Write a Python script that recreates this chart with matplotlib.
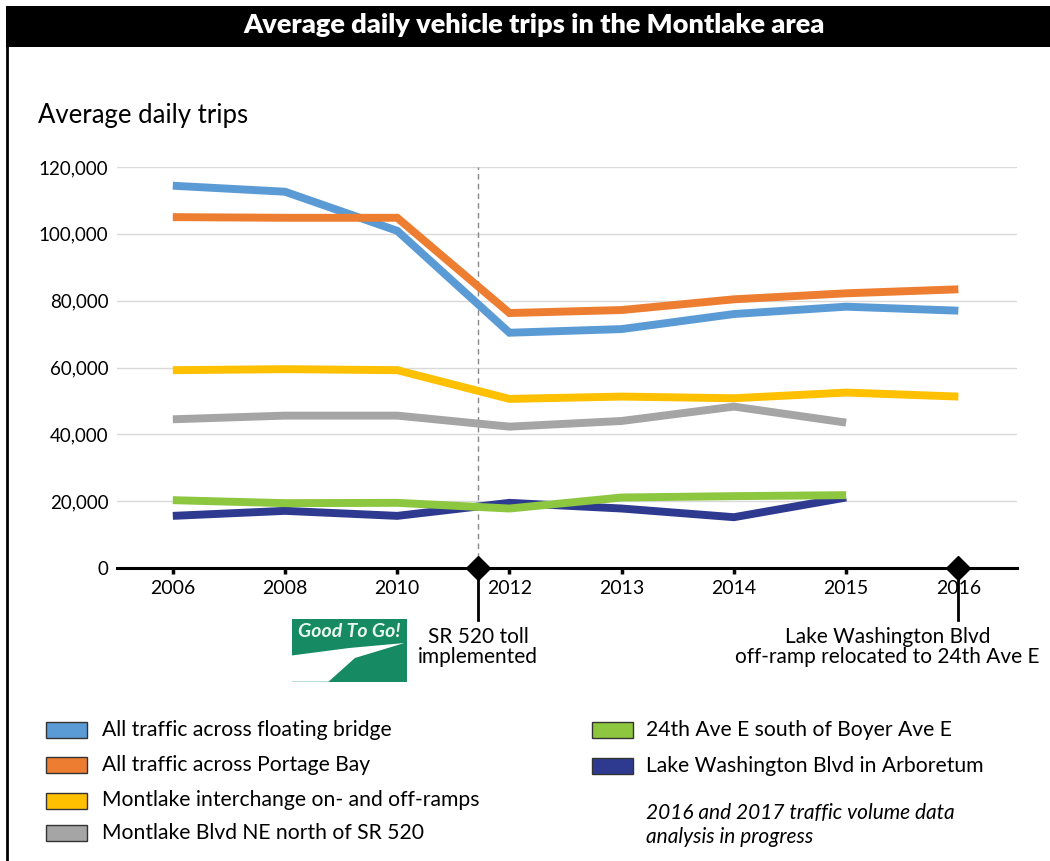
import matplotlib
matplotlib.use("Agg")
import matplotlib.pyplot as plt
from matplotlib.patches import Rectangle, Polygon
from matplotlib.lines import Line2D
from matplotlib.transforms import blended_transform_factory
import numpy as np

plt.rcParams['font.family'] = ['Lato', 'DejaVu Sans']

# data
years = ['2006', '2008', '2010', '2012', '2013', '2014', '2015', '2016']

floating_bridge = [114400, 112600, 100900, 70400, 71500, 76000, 78200, 77000]
portage_bay = [105000, 104800, 104800, 76300, 77200, 80400, 82200, 83400]
montlake_ramps = [59200, 59500, 59200, 50600, 51300, 50800, 52500, 51300]
montlake_blvd = [44500, 45600, 45600, 42300, 44000, 48300, 43500, np.nan]
ave_24th = [20300, 19400, 19500, 17800, 21100, 21500, 21800, np.nan]
lake_wash_blvd = [15600, 17100, 15600, 19500, 17800, 15200, 21100, np.nan]

series = [floating_bridge, portage_bay, montlake_ramps, montlake_blvd, ave_24th, lake_wash_blvd]
labels = ['All traffic across floating bridge',
          'All traffic across Portage Bay',
          'Montlake interchange on- and off-ramps',
          'Montlake Blvd NE north of SR 520',
          '24th Ave E south of Boyer Ave E',
          'Lake Washington Blvd in Arboretum']
colors = ['#5B9BD5', '#ED7D31', '#FFC000', '#A5A5A5', '#8DC63F', '#2E3A8F']
zorders = [4, 5, 4, 4, 4, 3]

# events on the timeline (position on the category axis)
event_pos = [2.72, 7.0]
event_text = ['SR 520 toll\nimplemented',
              'Lake Washington Blvd\noff-ramp relocated to 24th Ave E']

W, H = 1050, 861


def px(x, y):
    # pixel (from top-left) -> figure fraction
    return x / W, 1 - y / H


fig = plt.figure(figsize=(W / 100, H / 100), dpi=100)

# frame: title bar + left border
x0, y0 = px(6, 47)
fig.patches.append(Rectangle((x0, y0), 1 - x0, 41 / H, transform=fig.transFigure,
                             facecolor='black', edgecolor='none'))
fig.lines.append(Line2D([7 / W, 7 / W], [y0, 0], transform=fig.transFigure,
                        color='black', lw=2))
fig.text(*px(534, 25), 'Average daily vehicle trips in the Montlake area',
         color='white', fontsize=19.5, fontweight='heavy', ha='center', va='center')

fig.text(*px(38, 115), 'Average daily trips', fontsize=18.5, ha='left', va='center')

ax = fig.add_axes([116.7 / W, 1 - 568 / H, 900 / W, 401 / H])
x = np.arange(len(years))
for vals, c, z in zip(series, colors, zorders):
    ax.plot(x, vals, color=c, lw=5.7, solid_capstyle='butt', solid_joinstyle='miter', zorder=z)

ax.set_xlim(-0.5, 7.52)
ax.set_ylim(0, 120000)
ax.set_yticks(np.arange(0, 120001, 20000))
ax.set_yticklabels([f'{v:,}' for v in range(0, 120001, 20000)])
ax.set_xticks(x[:-1])
ax.set_xticklabels(years[:-1])
ax.set_xticks([x[-1]], minor=True)
ax.set_xticklabels([years[-1]], minor=True)
ax.tick_params(axis='y', length=0, pad=6, labelsize=13.5)
ax.tick_params(axis='x', which='major', length=4, width=2.5, direction='out', pad=5, labelsize=14)
ax.tick_params(axis='x', which='minor', length=0, pad=8.5, labelsize=14)
ax.yaxis.grid(True, color='#d9d9d9', lw=1)
ax.set_axisbelow(True)
for s in ['top', 'right', 'left']:
    ax.spines[s].set_visible(False)
ax.spines['bottom'].set_linewidth(2.2)
ax.spines['bottom'].set_zorder(6)

# toll line
ax.axvline(event_pos[0], color='#888888', lw=1, dashes=(4, 3), zorder=1)

trans = blended_transform_factory(ax.transData, ax.transAxes)
for p in event_pos:
    ax.plot([p, p], [0, -0.13], transform=trans, color='black', lw=2, clip_on=False, zorder=7)
    ax.plot([p], [0], transform=trans, marker='D', ms=12, color='black', clip_on=False, zorder=8)

tt = blended_transform_factory(ax.transData, fig.transFigure)
ax.text(event_pos[0], px(0, 647)[1], event_text[0], transform=tt,
        ha='center', va='center', fontsize=15, linespacing=1.05)
ax.text(event_pos[1] - 0.63, px(0, 647)[1], event_text[1], transform=tt,
        ha='center', va='center', fontsize=15, linespacing=1.05)

# "Good To Go!" badge
bx, by = px(291.7, 681.7)
bw, bh = 115 / W, 62.4 / H
fig.patches.append(Rectangle((bx, by), bw, bh, transform=fig.transFigure,
                             facecolor='#168a62', edgecolor='none'))
swoosh = [(0, 0.0), (0, 0.42), (0.5, 0.54), (0.98, 0.62), (0.55, 0.38), (0.32, 0.0)]
fig.patches.append(Polygon([(bx + bw * a, by + bh * b) for a, b in swoosh],
                           closed=True, transform=fig.transFigure,
                           facecolor='white', edgecolor='none'))
fig.text(bx + bw * 0.5, by + bh * 0.8, 'Good To Go!', color='#eaf6f0', fontsize=14,
         fontweight='bold', style='italic', ha='center', va='center')

# legend
rows = [729.5, 765.3, 800.5, 833.3, 729.5, 765.5]
cols = [(46, 102), (46, 102), (46, 102), (46, 102), (592, 646), (592, 646)]
for lab, c, ry, (cx, tx) in zip(labels, colors, rows, cols):
    lx, ly = px(cx, ry + 8)
    fig.patches.append(Rectangle((lx, ly), 41 / W, 16 / H, transform=fig.transFigure,
                                 facecolor=c, edgecolor='#333333', lw=1))
    fig.text(*px(tx, ry), lab, fontsize=15.2, ha='left', va='center')

fig.text(*px(646, 825), '2016 and 2017 traffic volume data\nanalysis in progress',
         fontsize=15, style='italic', ha='left', va='center', linespacing=1.2)

fig.savefig('out.png', dpi=100)
